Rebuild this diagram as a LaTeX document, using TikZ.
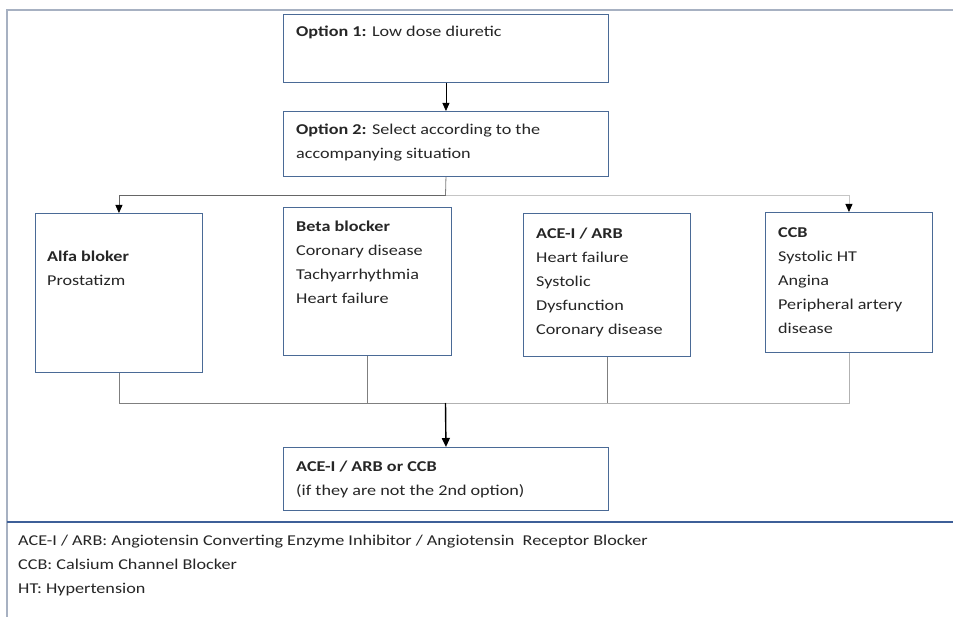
\documentclass[tikz,border=0pt]{standalone}
\usepackage{fontspec}
\setmainfont{Carlito}[FakeStretch=1.21]
\usetikzlibrary{arrows.meta}
\definecolor{boxblue}{HTML}{4A6A96}
\definecolor{framegray}{HTML}{A7B1C2}
\definecolor{sepblue}{HTML}{3E5F98}
\definecolor{conngray}{HTML}{7F7F7F}
\begin{document}
\begin{tikzpicture}[x=1pt,y=-1pt,
  box/.style={draw=boxblue,line width=0.9pt,minimum width=#1,anchor=north west,inner sep=0pt},
  box/.default=10pt,
  txt/.style={anchor=north west,inner sep=0pt,align=left,font=\fontsize{15}{24}\selectfont,text=black!85},
  conn/.style={draw=conngray,line width=0.8pt},
  tip/.style={-{Triangle[length=8pt,width=7pt,fill=black,color=black]}},
  arr/.style={draw=black,line width=0.8pt,tip},
  arrbig/.style={draw=black,line width=1.4pt,-{Triangle[length=9pt,width=8pt]}}]
\useasboundingbox (0,0) rectangle (953,617);
\fill[white] (0,0) rectangle (953,617);
% frame
\draw[framegray,line width=2pt] (7,617) -- (7,10) -- (953,10);
\draw[sepblue,line width=2pt] (7,522) -- (953,522);
% boxes
\node[box=325pt,minimum height=68pt] (o1) at (283,14) {};
\node[box=325pt,minimum height=65pt] (o2) at (283,111) {};
\node[box=167pt,minimum height=159pt] (alfa) at (35,213) {};
\node[box=168pt,minimum height=148pt] (beta) at (283,207) {};
\node[box=167pt,minimum height=143pt] (ace) at (523,213) {};
\node[box=167pt,minimum height=140pt] (ccb) at (765,212) {};
\node[box=325pt,minimum height=63pt] (fin) at (283,447) {};
% texts
\node[txt] (t1) at (296,26) {\textbf{Option 1:} Low dose diuretic};
\node[txt] (t2) at (296,124) {\textbf{Option 2:} Select according to the\\accompanying situation};
\node[txt] (ta) at (47,251) {\textbf{Alfa bloker}\\Prostatizm};
\node[txt] (tb) at (296,221) {\textbf{Beta blocker}\\Coronary disease\\Tachyarrhythmia\\Heart failure};
\node[txt] (tc) at (536,228) {\textbf{ACE-I / ARB}\\Heart failure\\Systolic\\Dysfunction\\Coronary disease};
\node[txt] (td) at (778,227) {\textbf{CCB}\\Systolic HT\\Angina\\Peripheral artery\\disease};
\node[txt] (tf) at (296,461) {\textbf{ACE-I / ARB or CCB}\\(if they are not the 2nd option)};
\node[txt] (leg) at (18,535) {ACE-I / ARB: Angiotensin Converting Enzyme Inhibitor / Angiotensin\ \ Receptor Blocker\\CCB: Calsium Channel Blocker\\HT: Hypertension};
% connectors
\coordinate (split) at (445.5,195);
\coordinate (join) at (445.5,403);
\draw[arr] (o1.south) -- (o2.north);
\draw[conn] (o2.south) -- (split);
\draw[conn,draw=conngray!80!black,tip] (split) -| (alfa.north);
\draw[conn,draw=conngray!45,tip] (split) -| (ccb.north);
\draw[conn] (alfa.south) |- (join);
\draw[conn,draw=conngray!60] (ccb.south) |- (join);
\draw[conn] (beta.south) -- (beta.south |- join);
\draw[conn] (ace.south) -- (ace.south |- join);
\draw[arrbig] (join) -- (fin.north);
\end{tikzpicture}
\end{document}
